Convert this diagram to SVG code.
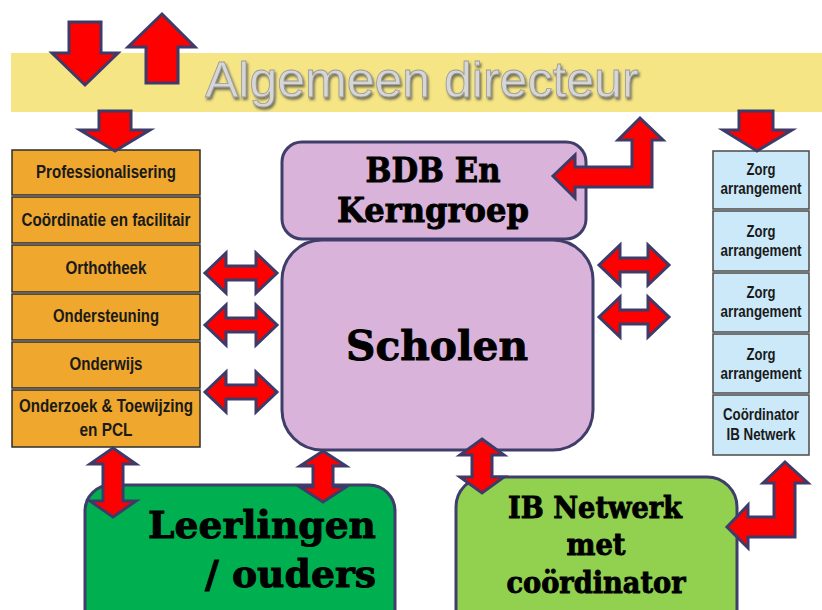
<svg xmlns="http://www.w3.org/2000/svg" width="822" height="610" viewBox="0 0 822 610">
<defs>
<filter id="emb" x="-5%" y="-20%" width="110%" height="150%">
<feDropShadow dx="1.5" dy="2.5" stdDeviation="1" flood-color="#4a4a4a" flood-opacity="0.75"/>
</filter>
</defs>
<style>
.arrow{fill:#ff0000;stroke:#3d3b69;stroke-width:3;stroke-linejoin:miter}
.org{fill:#efa72e;stroke:#2e2e2e;stroke-width:1.5}
.blu{fill:#cbe9f9;stroke:#4a4a4a;stroke-width:1.5}
.nar{font-family:"Liberation Sans",Arial,sans-serif;font-weight:bold;fill:#1a1a1a;text-anchor:middle}
.slab{font-family:"DejaVu Serif","Liberation Serif",serif;font-weight:bold;fill:#000;stroke:#000;stroke-width:0.9}
.big{stroke:#3f3e6a;stroke-width:3}
</style>
<rect width="822" height="610" fill="#ffffff"/>
<g id="banner">
<rect x="11" y="53" width="811" height="59" fill="#f5e585"/>
<text x="205" y="97" font-family="Liberation Sans,Arial,sans-serif" font-size="50" fill="#d6d6d6" stroke="#9a9a9a" stroke-width="0.8" filter="url(#emb)">Algemeen directeur</text>
</g>
<g id="left-column">
<rect class="org" x="12" y="150" width="188" height="45"/>
<text class="nar" x="106" y="178" font-size="18" textLength="140" lengthAdjust="spacingAndGlyphs">Professionalisering</text>
<rect class="org" x="12" y="197" width="188" height="46"/>
<text class="nar" x="106" y="226" font-size="18" textLength="169" lengthAdjust="spacingAndGlyphs">Coördinatie en facilitair</text>
<rect class="org" x="12" y="245" width="188" height="47"/>
<text class="nar" x="106" y="274" font-size="18" textLength="81" lengthAdjust="spacingAndGlyphs">Orthotheek</text>
<rect class="org" x="12" y="294" width="188" height="46"/>
<text class="nar" x="106" y="322" font-size="18" textLength="106" lengthAdjust="spacingAndGlyphs">Ondersteuning</text>
<rect class="org" x="12" y="342" width="188" height="46"/>
<text class="nar" x="106" y="370" font-size="18" textLength="73" lengthAdjust="spacingAndGlyphs">Onderwijs</text>
<rect class="org" x="12" y="390" width="188" height="57"/>
<text class="nar" x="106" y="412" font-size="18" textLength="174" lengthAdjust="spacingAndGlyphs">Onderzoek &amp; Toewijzing</text>
<text class="nar" x="106" y="436" font-size="18" textLength="53" lengthAdjust="spacingAndGlyphs">en PCL</text>
</g>
<g id="right-column">
<rect class="blu" x="713" y="151" width="96" height="58"/>
<text class="nar" x="761" y="175" font-size="16" textLength="29" lengthAdjust="spacingAndGlyphs">Zorg</text>
<text class="nar" x="761" y="194" font-size="16" textLength="81" lengthAdjust="spacingAndGlyphs">arrangement</text>
<rect class="blu" x="713" y="211" width="96" height="60"/>
<text class="nar" x="761" y="237" font-size="16" textLength="29" lengthAdjust="spacingAndGlyphs">Zorg</text>
<text class="nar" x="761" y="256" font-size="16" textLength="81" lengthAdjust="spacingAndGlyphs">arrangement</text>
<rect class="blu" x="713" y="273" width="96" height="59"/>
<text class="nar" x="761" y="298" font-size="16" textLength="29" lengthAdjust="spacingAndGlyphs">Zorg</text>
<text class="nar" x="761" y="317" font-size="16" textLength="81" lengthAdjust="spacingAndGlyphs">arrangement</text>
<rect class="blu" x="713" y="334" width="96" height="59"/>
<text class="nar" x="761" y="360" font-size="16" textLength="29" lengthAdjust="spacingAndGlyphs">Zorg</text>
<text class="nar" x="761" y="379" font-size="16" textLength="81" lengthAdjust="spacingAndGlyphs">arrangement</text>
<rect class="blu" x="713" y="395" width="96" height="60"/>
<text class="nar" x="761" y="420" font-size="16" textLength="76" lengthAdjust="spacingAndGlyphs">Coördinator</text>
<text class="nar" x="761" y="440" font-size="16" textLength="69" lengthAdjust="spacingAndGlyphs">IB Netwerk</text>
</g>
<g id="bdb">
<rect class="big" x="282" y="142" width="304" height="97" rx="20" fill="#dab3da"/>
<text class="slab" x="433" y="182" font-size="34" text-anchor="middle" textLength="135" lengthAdjust="spacingAndGlyphs">BDB En</text>
<text class="slab" x="433" y="222" font-size="34" text-anchor="middle" textLength="192" lengthAdjust="spacingAndGlyphs">Kerngroep</text>
</g>
<g id="scholen">
<rect class="big" x="282" y="240" width="311" height="210" rx="40" fill="#dab3da"/>
<text class="slab" x="437" y="360" font-size="41" text-anchor="middle" textLength="182" lengthAdjust="spacingAndGlyphs">Scholen</text>
</g>
<g id="leerlingen">
<rect class="big" x="85" y="485" width="310" height="160" rx="26" fill="#00b050"/>
<text class="slab" x="148" y="538" font-size="38" textLength="228" lengthAdjust="spacingAndGlyphs">Leerlingen</text>
<text class="slab" x="205" y="587" font-size="38" textLength="171" lengthAdjust="spacingAndGlyphs">/ ouders</text>
</g>
<g id="ib-netwerk">
<rect class="big" x="456" y="477" width="281" height="170" rx="30" fill="#92d050"/>
<text class="slab" x="595" y="518" font-size="29" text-anchor="middle" textLength="174" lengthAdjust="spacingAndGlyphs">IB Netwerk</text>
<text class="slab" x="596" y="555" font-size="29" text-anchor="middle" textLength="59" lengthAdjust="spacingAndGlyphs">met</text>
<text class="slab" x="596" y="593" font-size="29" text-anchor="middle" textLength="179" lengthAdjust="spacingAndGlyphs">coördinator</text>
</g>
<g id="connectors">
<polygon class="arrow" points="69,22 101,22 101,53 118,53 85,85 52,53 69,53"/>
<polygon class="arrow" points="162,14 195,47 178,47 178,83 146,83 146,47 128,47"/>
<polygon class="arrow" points="99,111 131,111 131,130 150,130 115,151 80,130 99,130"/>
<polygon class="arrow" points="739,111 773,111 773,130 792,130 757,151 723,130 739,130"/>
<polygon class="arrow" points="640,118 663,140 652,140 652,187 575,187 575,198 553,176 575,155 575,167 632,167 632,140 618,140"/>
<polygon class="arrow" points="785,462 808,483 795,483 795,537 748,537 748,548 727,527 748,505 748,517 774,517 774,483 763,483"/>
<polygon class="arrow" points="205,273 226,253 226,266 256,266 256,253 277,273 256,293 256,280 226,280 226,293"/>
<polygon class="arrow" points="205,325 226,305 226,318 256,318 256,305 277,325 256,345 256,332 226,332 226,345"/>
<polygon class="arrow" points="205,392 226,372 226,385 256,385 256,372 277,392 256,412 256,399 226,399 226,412"/>
<polygon class="arrow" points="599,265 620,245 620,258 648,258 648,245 669,265 648,285 648,272 620,272 620,285"/>
<polygon class="arrow" points="599,317 620,297 620,310 648,310 648,297 669,317 648,337 648,324 620,324 620,337"/>
<polygon class="arrow" points="113,448 136,464 123,464 123,501 136,501 113,517 90,501 103,501 103,464 90,464"/>
<polygon class="arrow" points="323,451 346,466 333,466 333,487 346,487 323,502 300,487 313,487 313,466 300,466"/>
<polygon class="arrow" points="482,439 504,455 492,455 492,477 504,477 482,493 460,477 472,477 472,455 460,455"/>
</g>
</svg>
